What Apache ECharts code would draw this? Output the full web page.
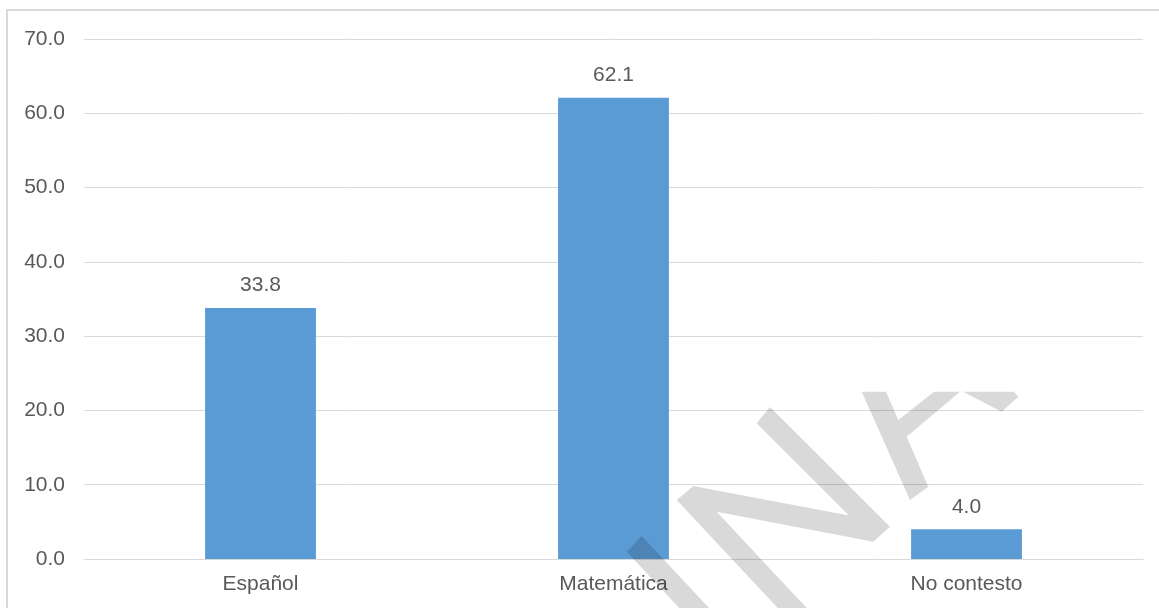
<!DOCTYPE html>
<html>
<head>
<meta charset="utf-8">
<script src="https://cdn.jsdelivr.net/npm/echarts@6/dist/echarts.min.js"></script>
<style>
  html, body { margin: 0; padding: 0; background: #ffffff; }
  #chart { width: 1159px; height: 608px; }
</style>
</head>
<body>
<div id="chart"></div>
<script>
// Subjects and their percentages
const categories = ['Español', 'Matemática', 'No contesto'];
const values = [33.8, 62.1, 4.0];

// Value axis range
const yMin = 0;
const yMax = 70;
const yStep = 10;

const textColor = '#595959';
const gridColor = '#d9d9d9';
const barColor = '#5b9bd5';
const font = '"Liberation Sans", Arial, sans-serif';

// Faint grey watermark strokes laid over the plot
const shade = 'rgba(0,0,0,0.15)';
const watermark = [
  [[626.7, 551.7], [641.7, 536], [725, 625], [710, 641]],
  [[676.7, 500], [693.3, 486], [849, 515.6], [756.7, 423.3], [770, 407],
   [890, 526.7], [873.3, 541.7], [716.7, 511.7], [836.6, 640], [821.6, 655]],
  [[861.7, 391.7], [886, 391.7], [898.3, 420], [934, 391.7], [960, 391.7],
   [906.7, 436.7], [928.3, 486.7], [910, 500]],
  [[963, 391.7], [1014, 391.7], [1018.3, 396.7], [1001.7, 411.7]]
];

const chart = echarts.init(document.getElementById('chart'), null, { renderer: 'canvas' });

chart.setOption({
  backgroundColor: '#ffffff',
  animation: false,
  grid: { left: 84, right: 16, top: 39, bottom: 49, containLabel: false },
  xAxis: {
    type: 'category',
    data: categories,
    axisLine: { show: true, lineStyle: { color: gridColor, width: 1 } },
    axisTick: { show: false },
    axisLabel: { color: textColor, fontFamily: font, fontSize: 21, margin: 15 }
  },
  yAxis: {
    type: 'value',
    min: yMin,
    max: yMax,
    interval: yStep,
    axisLine: { show: false },
    axisTick: { show: false },
    splitLine: { show: true, lineStyle: { color: gridColor, width: 1 } },
    axisLabel: {
      color: textColor, fontFamily: font, fontSize: 21, margin: 19,
      formatter: v => v.toFixed(1)
    }
  },
  series: [{
    type: 'bar',
    data: values,
    barWidth: '31.4%',
    itemStyle: { color: barColor },
    label: {
      show: true,
      position: 'top',
      distance: 12,
      color: textColor,
      fontFamily: font,
      fontSize: 21,
      formatter: p => Number(p.value).toFixed(1)
    }
  }],
  graphic: [
    {
      type: 'rect',
      shape: { x: 7, y: 10, width: 1170, height: 620 },
      style: { fill: 'none', stroke: '#d9d9d9', lineWidth: 2 },
      silent: true,
      z: 1
    }
  ].concat(watermark.map(pts => ({
    type: 'polygon',
    shape: { points: pts },
    style: { fill: shade },
    silent: true,
    z: 100
  })))
});
</script>
</body>
</html>
